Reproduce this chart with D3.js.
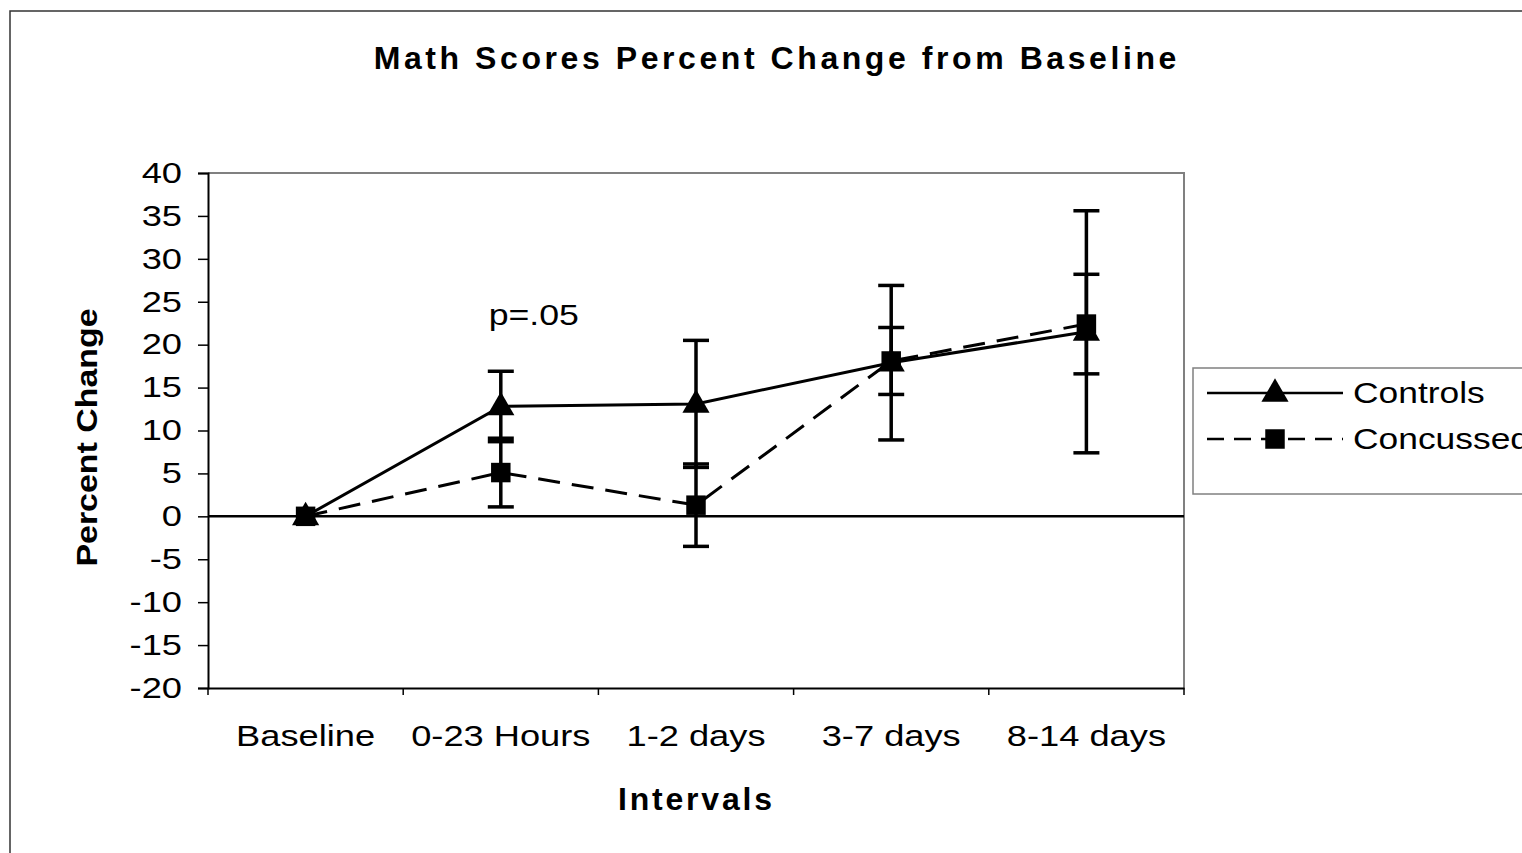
<!DOCTYPE html>
<html>
<head>
<meta charset="utf-8">
<script src="https://cdn.jsdelivr.net/npm/d3@7"></script>
<style>
  html, body { margin: 0; padding: 0; background: #fff; overflow: hidden; }
  text { font-family: "Liberation Sans", Arial, sans-serif; fill: #000; }
</style>
</head>
<body>
<svg id="chart" width="1522" height="853"></svg>
<script>
// data
const categories = ['Baseline', '0-23 Hours', '1-2 days', '3-7 days', '8-14 days'];
const controls = [0, 12.8, 13.1, 17.9, 21.5];
const controlsErr = [0, 4.1, 7.4, 9.0, 14.1];
const concussed = [0, 5.1, 1.3, 18.1, 22.4];
const concussedErr = [0, 4.0, 4.8, 3.9, 5.8];
const yTicks = [40, 35, 30, 25, 20, 15, 10, 5, 0, -5, -10, -15, -20];

const svg = d3.select('#chart');
const plot = { left: 208, right: 1184, top: 173, bottom: 688 };

// stretch text sideways, the original fonts render wider
function stretch(sel, k, mode) {
  sel.each(function () {
    const len = this.getComputedTextLength();
    d3.select(this).attr('textLength', len * k).attr('lengthAdjust', mode || 'spacingAndGlyphs');
  });
}

// outer chart frame
svg.append('rect')
  .attr('x', 10).attr('y', 11).attr('width', 1600).attr('height', 900)
  .attr('fill', 'none').attr('stroke', '#333').attr('stroke-width', 1.5);

const x = d3.scaleBand().domain(categories).range([plot.left, plot.right]).padding(0);
const y = d3.scaleLinear().domain([-20, 40]).range([plot.bottom, plot.top]);
const cx = d => x(d) + x.bandwidth() / 2;

// plot area border (top + right grey)
svg.append('path')
  .attr('d', `M${plot.left},${plot.top}H${plot.right}V${plot.bottom}`)
  .attr('fill', 'none').attr('stroke', '#808080').attr('stroke-width', 2);

// y axis
const yAxis = svg.append('g')
  .attr('transform', `translate(${plot.left},0)`)
  .call(d3.axisLeft(y).tickValues(yTicks).tickFormat(d => String(d)).tickSize(10).tickPadding(16));
yAxis.select('.domain').attr('stroke', '#000').attr('stroke-width', 2);
yAxis.selectAll('.tick line').attr('stroke', '#000').attr('stroke-width', 1.5);
yAxis.selectAll('text').style('font-size', '29px').attr('fill', '#000')
  .attr('font-family', '"Liberation Sans", Arial, sans-serif');
stretch(yAxis.selectAll('text'), 1.25);

// x axis, labels in the middle of the bands
const xAxis = svg.append('g')
  .attr('transform', `translate(0,${plot.bottom})`)
  .call(d3.axisBottom(x).tickSize(0).tickPadding(37));
xAxis.select('.domain').attr('stroke', '#000').attr('stroke-width', 2);
xAxis.selectAll('text').style('font-size', '29px').attr('fill', '#000')
  .attr('font-family', '"Liberation Sans", Arial, sans-serif');
stretch(xAxis.selectAll('text'), 1.25);

// x ticks sit on the band edges
const edges = d3.range(categories.length + 1).map(i => plot.left + i * x.step());
svg.append('g').selectAll('line')
  .data(edges)
  .enter().append('line')
  .attr('x1', d => d).attr('x2', d => d)
  .attr('y1', plot.bottom).attr('y2', plot.bottom + 7)
  .attr('stroke', '#000').attr('stroke-width', 1.5);

// zero line
svg.append('line')
  .attr('x1', plot.left).attr('x2', plot.right)
  .attr('y1', y(0)).attr('y2', y(0))
  .attr('stroke', '#000').attr('stroke-width', 2.5);

const triangle = d3.symbol().type(d3.symbolTriangle).size(320);
const square = d3.symbol().type(d3.symbolSquare).size(380);
const dashes = '22,12';

function drawSeries(values, errs, dash, sym) {
  const pts = categories.map((c, i) => ({ c, v: values[i], e: errs[i] }));
  const g = svg.append('g');

  const bars = g.selectAll('.err')
    .data(pts.filter(d => d.e > 0))
    .enter().append('g');
  bars.append('line')
    .attr('x1', d => cx(d.c)).attr('x2', d => cx(d.c))
    .attr('y1', d => y(d.v - d.e)).attr('y2', d => y(d.v + d.e))
    .attr('stroke', '#000').attr('stroke-width', 3.5);
  [-1, 1].forEach(s => {
    bars.append('line')
      .attr('x1', d => cx(d.c) - 13).attr('x2', d => cx(d.c) + 13)
      .attr('y1', d => y(d.v + s * d.e)).attr('y2', d => y(d.v + s * d.e))
      .attr('stroke', '#000').attr('stroke-width', 3.5);
  });

  g.append('path')
    .datum(pts)
    .attr('d', d3.line().x(d => cx(d.c)).y(d => y(d.v)))
    .attr('fill', 'none').attr('stroke', '#000').attr('stroke-width', 3)
    .attr('stroke-dasharray', dash);

  g.selectAll('.mark')
    .data(pts)
    .enter().append('path')
    .attr('d', sym)
    .attr('transform', d => `translate(${cx(d.c)},${y(d.v) + (sym === triangle ? 1 : 0)})`)
    .attr('fill', '#000');
}

drawSeries(controls, controlsErr, null, triangle);
drawSeries(concussed, concussedErr, dashes, square);

// annotation
const pText = svg.append('text')
  .attr('x', cx(categories[1]) + 33).attr('y', y(22.3))
  .attr('text-anchor', 'middle').style('font-size', '29px')
  .text('p=.05');
stretch(pText, 1.23);

// titles
const title = svg.append('text')
  .attr('x', 775).attr('y', 69)
  .attr('text-anchor', 'middle').style('font-size', '32px').style('font-weight', 'bold')
  .text('Math Scores Percent Change from Baseline');
stretch(title, 1.21, 'spacing');

const xTitle = svg.append('text')
  .attr('x', 695).attr('y', 810)
  .attr('text-anchor', 'middle').style('font-size', '32px').style('font-weight', 'bold')
  .text('Intervals');
stretch(xTitle, 1.17, 'spacing');

const yTitle = svg.append('text')
  .attr('transform', `translate(97,${(plot.top + plot.bottom) / 2 + 7}) rotate(-90)`)
  .attr('text-anchor', 'middle').style('font-size', '30px').style('font-weight', 'bold')
  .text('Percent Change');
stretch(yTitle, 1.13);

// legend
const legend = svg.append('g');
legend.append('rect')
  .attr('x', 1193).attr('y', 368).attr('width', 400).attr('height', 126)
  .attr('fill', '#fff').attr('stroke', '#808080').attr('stroke-width', 1.5);

const legendItems = [
  { name: 'Controls', dash: null, sym: triangle, dy: 0 },
  { name: 'Concussed', dash: '17,10', sym: square, dy: 46 }
];
const li = legend.selectAll('.item')
  .data(legendItems)
  .enter().append('g')
  .attr('transform', d => `translate(1207,${393 + d.dy})`);
li.append('line')
  .attr('x1', 0).attr('x2', 136)
  .attr('stroke', '#000').attr('stroke-width', 2.5)
  .attr('stroke-dasharray', d => d.dash);
li.append('path')
  .attr('d', d => d.sym())
  .attr('transform', d => `translate(68,${d.sym === triangle ? 1 : 0})`)
  .attr('fill', '#000');
const lt = li.append('text')
  .attr('x', 146).attr('y', 10)
  .style('font-size', '29px')
  .text(d => d.name);
stretch(lt, 1.22);
</script>
</body>
</html>
